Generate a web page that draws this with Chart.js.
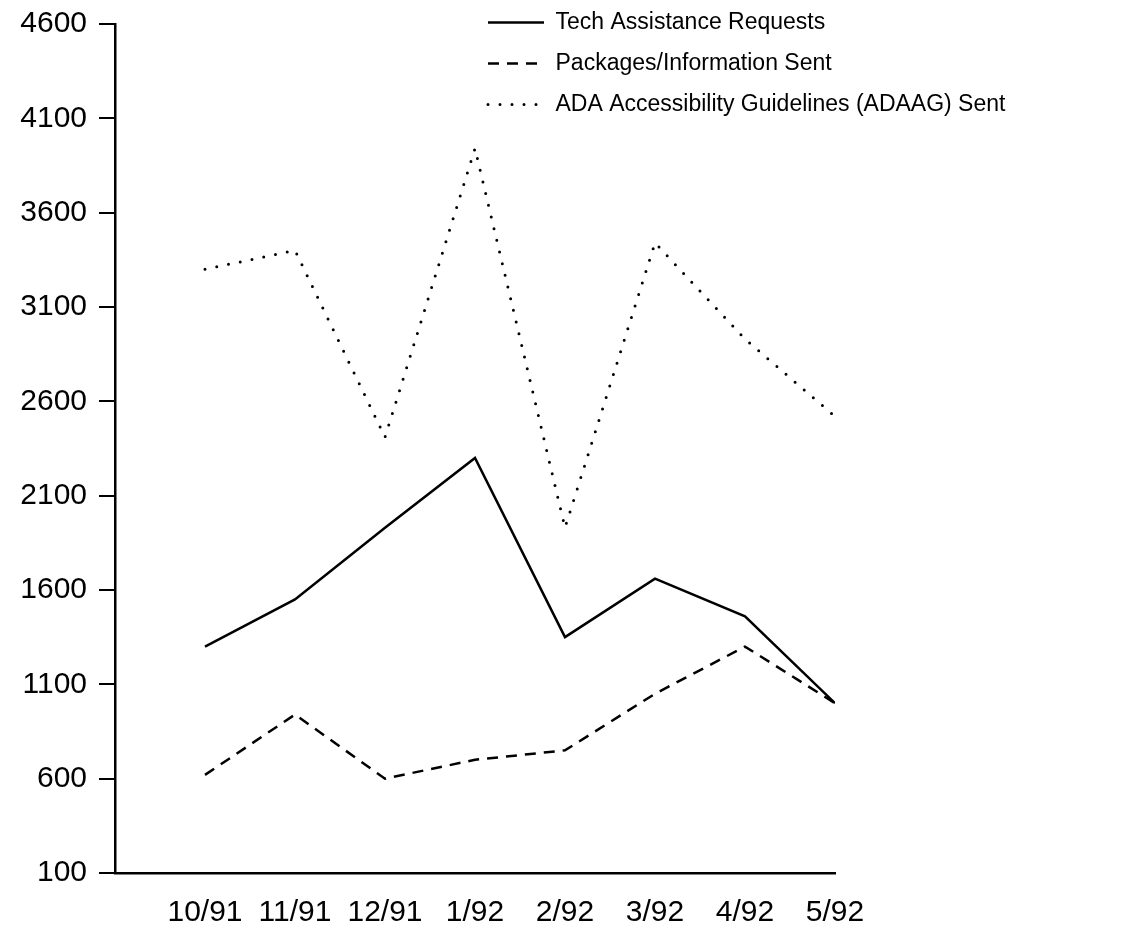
<!DOCTYPE html>
<html>
<head>
<meta charset="utf-8">
<script src="https://cdn.jsdelivr.net/npm/chart.js@4/dist/chart.umd.min.js"></script>
<style>
  html, body { margin: 0; padding: 0; background: #fff; }
  #wrap { width: 1148px; height: 934px; }
</style>
</head>
<body>
<div id="wrap"><canvas id="ctx" width="1148" height="934"></canvas></div>
<script>
// months on the x axis
var months = ['10/91', '11/91', '12/91', '1/92', '2/92', '3/92', '4/92', '5/92'];

// series
var techRequests = [1300, 1550, 1930, 2300, 1350, 1660, 1460, 1000];
var packagesSent = [620, 940, 600, 700, 750, 1050, 1300, 1000];
var adaagSent = [3300, 3400, 2410, 3940, 1930, 3440, 2930, 2520];

// y ticks
var yMin = 100;
var yMax = 4600;
var yStep = 500;

var seriesNames = [
	'Tech Assistance Requests',
	'Packages/Information Sent',
	'ADA Accessibility Guidelines (ADAAG) Sent'
];

function points(values){
	var out = [];
	for (var i = 0; i < values.length; i++){
		out.push({ x: i + 1, y: values[i] });
	}
	return out;
}

function line(label, values, dash, cap, width){
	return {
		label: label,
		data: points(values),
		borderColor: '#000',
		backgroundColor: '#000',
		borderWidth: width,
		borderDash: dash,
		borderCapStyle: cap,
		pointRadius: 0,
		tension: 0,
		fill: false
	};
}

// legend items keep the dash of their line
function legendLabels(chart){
	var items = Chart.defaults.plugins.legend.labels.generateLabels(chart);
	items.forEach(function(item, i){
		var ds = chart.data.datasets[i];
		item.lineDash = ds.borderDash;
		item.lineCap = ds.borderCapStyle;
		item.lineWidth = ds.borderWidth;
		item.strokeStyle = '#000';
		item.pointStyle = 'line';
	});
	return items;
}

// move the built-in legend to the top right, over the plot
var legendSpot = {
	id: 'legendSpot',
	afterLayout: function(chart){
		var lg = chart.legend;
		lg.left = 470;
		lg.top = -7;
		lg.right = lg.left + lg.width;
		lg.bottom = lg.top + lg.height;
	}
};

var font = "'Liberation Sans', Arial, Helvetica, sans-serif";

new Chart(document.getElementById('ctx'), {
	type: 'line',
	data: {
		datasets: [
			line(seriesNames[0], techRequests, [], 'butt', 2.5),
			line(seriesNames[1], packagesSent, [11, 8], 'butt', 2.5),
			line(seriesNames[2], adaagSent, [0, 12], 'round', 3)
		]
	},
	options: {
		responsive: false,
		animation: false,
		layout: { padding: { top: 18, right: 313, bottom: 0, left: 8 } },
		plugins: {
			tooltip: { enabled: false },
			legend: {
				position: 'chartArea',
				align: 'start',
				labels: {
					usePointStyle: true,
					pointStyle: 'line',
					pointStyleWidth: 56,
					boxHeight: 20,
					padding: 18,
					color: '#000',
					font: { family: font, size: 23 },
					generateLabels: legendLabels
				}
			}
		},
		scales: {
			x: {
				type: 'linear',
				min: 0,
				max: months.length,
				afterFit: function(s){ s.height = 61; },
				border: { display: true, color: '#000', width: 2.5 },
				grid: { display: true, drawOnChartArea: false, color: 'rgba(0,0,0,0)', tickLength: 18 },
				ticks: {
					stepSize: 1,
					autoSkip: false,
					maxRotation: 0,
					padding: 4,
					color: '#000',
					font: { family: font, size: 30 },
					callback: function(v){ return months[v - 1] || ''; }
				}
			},
			y: {
				min: yMin,
				max: yMax,
				afterFit: function(s){ s.width = 107; },
				border: { display: true, color: '#000', width: 2.5 },
				grid: { display: true, drawOnChartArea: false, color: '#000', lineWidth: 2, tickLength: 16 },
				ticks: {
					stepSize: yStep,
					padding: 12,
					color: '#000',
					font: { family: font, size: 30, lineHeight: 0.8 },
					callback: function(v){ return String(v); }
				}
			}
		}
	},
	plugins: [legendSpot]
});
</script>
</body>
</html>
